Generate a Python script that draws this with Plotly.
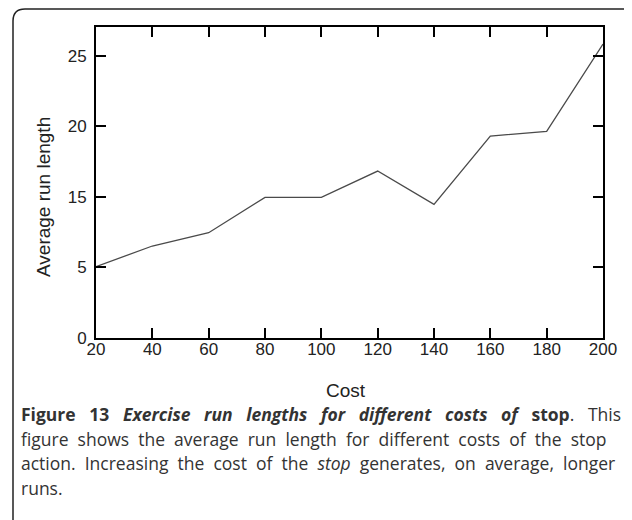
import plotly.graph_objects as go

# Data
costs = [20, 40, 60, 80, 100, 120, 140, 160, 180, 200]
run_lengths = [6.32, 8.15, 9.33, 12.46, 12.46, 14.79, 11.84, 17.89, 18.31, 26.04]

x_ticks = [20, 40, 60, 80, 100, 120, 140, 160, 180, 200]
y_tick_vals = [0, 6.25, 12.5, 18.75, 25]
y_tick_text = ["0", "5", "15", "20", "25"]

caption_lines = [
    ["<b>Figure", "13</b>", "<b><i>Exercise", "run", "lengths", "for", "different", "costs", "of</i></b>", "<b>stop</b>.", "This"],
    ["figure", "shows", "the", "average", "run", "length", "for", "different", "costs", "of", "the", "stop"],
    ["action.", "Increasing", "the", "cost", "of", "the", "<i>stop</i>", "generates,", "on", "average,", "longer"],
    ["runs."],
]
# spaces per word gap, to imitate the justified text of the original
caption_gaps = [3, 2, 2, 1]

# Page geometry (the page body adds an 8px offset)
OFF = 8
W, H = 632 - OFF, 520 - OFF
L, R, T, B = 96, 603, 27, 338


def px(x):
    return (x - L) / (R - L)


def py(y):
    return (B - y) / (B - T)


fig = go.Figure()

fig.add_trace(go.Scatter(
    x=costs, y=run_lengths, mode="lines",
    line=dict(color="#4a4a4a", width=1.3),
    showlegend=False, hoverinfo="x+y"
))

axis_style = dict(
    showline=True, linecolor="black", linewidth=2, mirror="allticks",
    ticks="inside", ticklen=10, tickwidth=2, tickcolor="black",
    showgrid=False, zeroline=False,
    tickfont=dict(family="Liberation Sans, Arial", size=17, color="#222222"),
)

fig.update_xaxes(range=[20, 200], tickvals=x_ticks, ticklabelstandoff=-5, **axis_style)
fig.update_yaxes(range=[0, 27.55], tickvals=y_tick_vals, ticktext=y_tick_text,
                 ticklabelstandoff=4, **axis_style)

title_font = dict(family="Liberation Sans, Arial", size=19, color="#222222")

# Axis titles
fig.add_annotation(text="Cost", xref="paper", yref="paper", x=px(346), y=py(390),
                   xanchor="center", yanchor="middle", showarrow=False, font=title_font)
fig.add_annotation(text="Average run length", xref="paper", yref="paper", x=px(43), y=py(197),
                   xanchor="center", yanchor="middle", showarrow=False, textangle=-90,
                   font=title_font)

# Caption
caption_y = [414, 439, 463, 488]
for words, gap, y in zip(caption_lines, caption_gaps, caption_y):
    sep = " " + "\u00a0" * (gap - 1)
    fig.add_annotation(
        text=sep.join(words), xref="paper", yref="paper",
        x=px(19), y=py(y), xanchor="left", yanchor="middle",
        showarrow=False, align="left",
        font=dict(family="Open Sans", size=17.5, color="#333333"),
    )

# Rounded frame around figure (left + top edges)
r = 12
top = 9
frame_path = (
    f"M {px(13)} {py(530)} L {px(13)} {py(top + r)} "
    f"Q {px(13)} {py(top)} {px(13 + r)} {py(top)} L {px(640)} {py(top)}"
)
fig.add_shape(type="path", path=frame_path, xref="paper", yref="paper",
              line=dict(color="#222222", width=1.5))

fig.update_layout(
    width=W, height=H,
    margin=dict(l=L - OFF, r=W - (R - OFF), t=T - OFF, b=H - (B - OFF)),
    plot_bgcolor="white", paper_bgcolor="white",
)

fig.write_html("out.html")
